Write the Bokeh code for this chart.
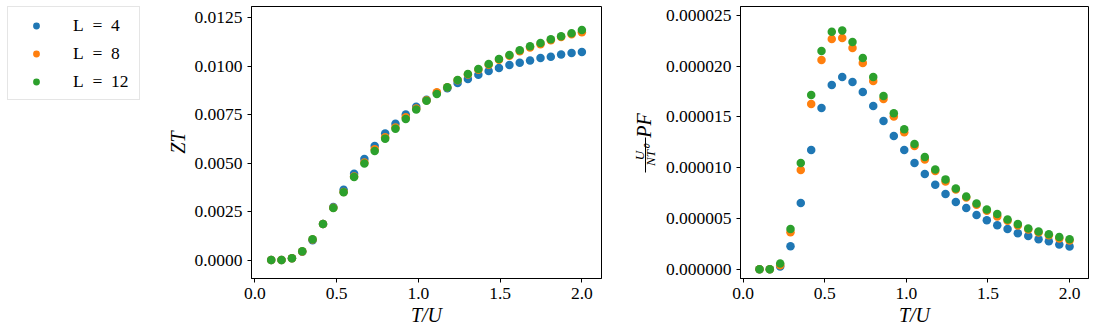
from bokeh.plotting import figure
from bokeh.layouts import row
from bokeh.models import (Legend, LegendItem, FixedTicker, NumeralTickFormatter,
                          Label, BoxAnnotation, Range1d)
from bokeh.embed import file_html
from bokeh.resources import INLINE

# ---------------- data ----------------
t_over_u = [0.1, 0.163, 0.227, 0.29, 0.353, 0.417, 0.48, 0.543, 0.607, 0.67,
            0.733, 0.797, 0.86, 0.923, 0.987, 1.05, 1.113, 1.177, 1.24, 1.303,
            1.367, 1.43, 1.493, 1.557, 1.62, 1.683, 1.747, 1.81, 1.873, 1.937, 2.0]

zt_L4 = [0, 0, 0.0001, 0.00043, 0.00103, 0.00186, 0.00274, 0.00363, 0.00446, 0.00522,
         0.00589, 0.00653, 0.00704, 0.00751, 0.00792, 0.00828, 0.00862, 0.00887, 0.00914,
         0.00935, 0.00957, 0.00976, 0.00992, 0.01007, 0.01019, 0.0103, 0.01043, 0.0105,
         0.01061, 0.01069, 0.01074]
zt_L8 = [0, 0, 0.0001, 0.00045, 0.00106, 0.00186, 0.0027, 0.00352, 0.00432, 0.00504,
         0.00572, 0.00634, 0.00685, 0.00737, 0.00783, 0.00825, 0.00866, 0.00892, 0.00928,
         0.00958, 0.00983, 0.01008, 0.01034, 0.01055, 0.01078, 0.01098, 0.01114, 0.01135,
         0.01152, 0.01166, 0.01176]
zt_L12 = [0, 0, 0.0001, 0.00046, 0.00107, 0.00186, 0.00269, 0.0035, 0.00429, 0.00498,
          0.00563, 0.00627, 0.00678, 0.00728, 0.00777, 0.00823, 0.00857, 0.00892, 0.0093,
          0.00961, 0.00987, 0.01012, 0.01038, 0.01059, 0.01083, 0.01104, 0.01121, 0.0114,
          0.01155, 0.01171, 0.01188]

pf_L4 = [0, 0, 2.6e-7, 2.27e-6, 6.51e-6, 1.174e-5, 1.589e-5, 1.816e-5, 1.894e-5, 1.845e-5,
         1.747e-5, 1.608e-5, 1.46e-5, 1.312e-5, 1.174e-5, 1.046e-5, 9.37e-6, 8.32e-6,
         7.40e-6, 6.61e-6, 6.02e-6, 5.33e-6, 4.83e-6, 4.34e-6, 3.95e-6, 3.55e-6, 3.26e-6,
         2.96e-6, 2.76e-6, 2.43e-6, 2.24e-6]
pf_L8 = [0, 0, 3.9e-7, 3.65e-6, 9.77e-6, 1.628e-5, 2.062e-5, 2.269e-5, 2.279e-5, 2.181e-5,
         2.033e-5, 1.855e-5, 1.677e-5, 1.506e-5, 1.349e-5, 1.214e-5, 1.082e-5, 9.67e-6,
         8.65e-6, 7.86e-6, 7.07e-6, 6.35e-6, 5.76e-6, 5.2e-6, 4.77e-6, 4.31e-6, 3.91e-6,
         3.62e-6, 3.35e-6, 3.03e-6, 2.83e-6]
pf_L12 = [0, 0, 5.6e-7, 3.95e-6, 1.046e-5, 1.717e-5, 2.151e-5, 2.339e-5, 2.352e-5, 2.24e-5,
          2.082e-5, 1.894e-5, 1.707e-5, 1.536e-5, 1.378e-5, 1.233e-5, 1.105e-5, 9.83e-6,
          8.85e-6, 7.96e-6, 7.17e-6, 6.48e-6, 5.89e-6, 5.43e-6, 4.9e-6, 4.44e-6, 4.01e-6,
          3.72e-6, 3.45e-6, 3.16e-6, 2.96e-6]

series_labels = ["L\u2002=\u20024", "L\u2002=\u20028", "L\u2002=\u200212"]
series_colors = ["#1f77b4", "#ff7f0e", "#2ca02c"]
x_ticks = [0.0, 0.5, 1.0, 1.5, 2.0]
zt_ticks = [0.0, 0.0025, 0.005, 0.0075, 0.01, 0.0125]
pf_ticks = [0.0, 0.000005, 0.00001, 0.000015, 0.00002, 0.000025]

FONT = "Liberation Serif"
TICK_SIZE = "17.5px"
LABEL_SIZE = "20px"
H = 334
TOP = 6
BOTTOM = 56


def style(p):
    p.grid.visible = False
    p.outline_line_color = "black"
    p.outline_line_width = 1
    p.background_fill_color = "white"
    p.border_fill_color = "white"
    for ax in (p.xaxis[0], p.yaxis[0]):
        ax.axis_line_color = "black"
        ax.major_tick_line_color = "black"
        ax.major_tick_out = 4
        ax.major_tick_in = 0
        ax.minor_tick_line_color = None
        ax.major_label_text_font = FONT
        ax.major_label_text_font_size = TICK_SIZE
        ax.major_label_text_color = "black"
        ax.major_label_standoff = 5
        ax.axis_label_text_font = FONT
        ax.axis_label_text_font_size = LABEL_SIZE
        ax.axis_label_text_font_style = "italic"
        ax.axis_label_text_color = "black"
        ax.axis_label_standoff = 2
    p.xaxis.ticker = FixedTicker(ticks=x_ticks)
    p.xaxis.formatter = NumeralTickFormatter(format="0.0")
    p.xaxis.axis_label = "T/U"


# ---------------- legend figure ----------------
# legend proxies: real series drawn into ranges far outside the visible window
pa = figure(width=150, height=H, x_range=(10, 11), y_range=(10, 11),
            x_axis_location=None, y_axis_location=None,
            min_border_left=7, min_border_right=0, min_border_top=0, min_border_bottom=0,
            toolbar_location=None, output_backend="svg",
            outline_line_color=None)
pa.grid.visible = False
items = []
for lab, col, ys in zip(series_labels, series_colors, [zt_L4, zt_L8, zt_L12]):
    r = pa.scatter(x=t_over_u, y=ys, size=8, color=col, line_color=None)
    items.append(LegendItem(label=lab, renderers=[r]))
leg = Legend(items=items, location="top_left", margin=0, padding=6, spacing=4,
             glyph_width=44, glyph_height=17, label_height=24, label_width=60,
             label_standoff=15, border_line_color="#cccccc", border_line_width=1,
             background_fill_color="white", label_text_font=FONT,
             label_text_font_size=TICK_SIZE, label_text_color="black")
pa.add_layout(leg)

# ---------------- ZT figure ----------------
pb = figure(width=470, height=H, x_range=(-0.0204, 2.120), y_range=(-0.00095, 0.01309),
            min_border_left=101, min_border_right=19, min_border_top=TOP,
            min_border_bottom=BOTTOM, toolbar_location=None, output_backend="svg")
style(pb)
pb.yaxis.ticker = FixedTicker(ticks=zt_ticks)
pb.yaxis.formatter = NumeralTickFormatter(format="0.0000")
pb.yaxis.axis_label = "ZT"
for ys, col in zip([zt_L4, zt_L8, zt_L12], series_colors):
    pb.scatter(x=t_over_u, y=ys, size=8.5, color=col, line_color=None)

# ---------------- PF figure ----------------
pf_yrange = Range1d(-9.2e-7, 2.589e-5)
pc = figure(width=435, height=H, x_range=(-0.0163, 2.116), y_range=pf_yrange,
            min_border_left=80, min_border_right=7, min_border_top=TOP,
            min_border_bottom=BOTTOM, toolbar_location=None, output_backend="svg")
style(pc)
pc.yaxis.ticker = FixedTicker(ticks=pf_ticks)
pc.yaxis.formatter = NumeralTickFormatter(format="0.000000")
for ys, col in zip([pf_L4, pf_L8, pf_L12], series_colors):
    pc.scatter(x=t_over_u, y=ys, size=8.5, color=col, line_color=None)

# ---------------- y-axis label of PF panel: stacked fraction U / (N T^0) PF ----------
pd = figure(width=40, height=H, x_range=(0, 40), y_range=pf_yrange,
            x_axis_location=None, y_axis_location=None,
            min_border_left=0, min_border_right=0, min_border_top=TOP,
            min_border_bottom=BOTTOM, toolbar_location=None, output_backend="svg",
            outline_line_color=None)
pd.grid.visible = False
lab_kw = dict(angle=1.5708, text_align="center", text_baseline="middle",
              text_font=FONT, text_font_style="italic", text_color="black")
pd.add_layout(Label(x=23, y=1.416e-5, text="PF", text_font_size=LABEL_SIZE, **lab_kw))
pd.add_layout(Label(x=18.5, y=1.12e-5, text="U", text_font_size="13px", **lab_kw))
pd.add_layout(Label(x=30, y=1.12e-5, text="NT\u2070", text_font_size="13px", **lab_kw))
pd.add_layout(BoxAnnotation(left=24.5, right=25.5, top=1.298e-5, bottom=9.53e-6,
                            fill_color="black", fill_alpha=1.0, line_color=None))

layout = row(pa, pb, pd, pc)
open("out.html", "w").write(file_html(layout, INLINE))
